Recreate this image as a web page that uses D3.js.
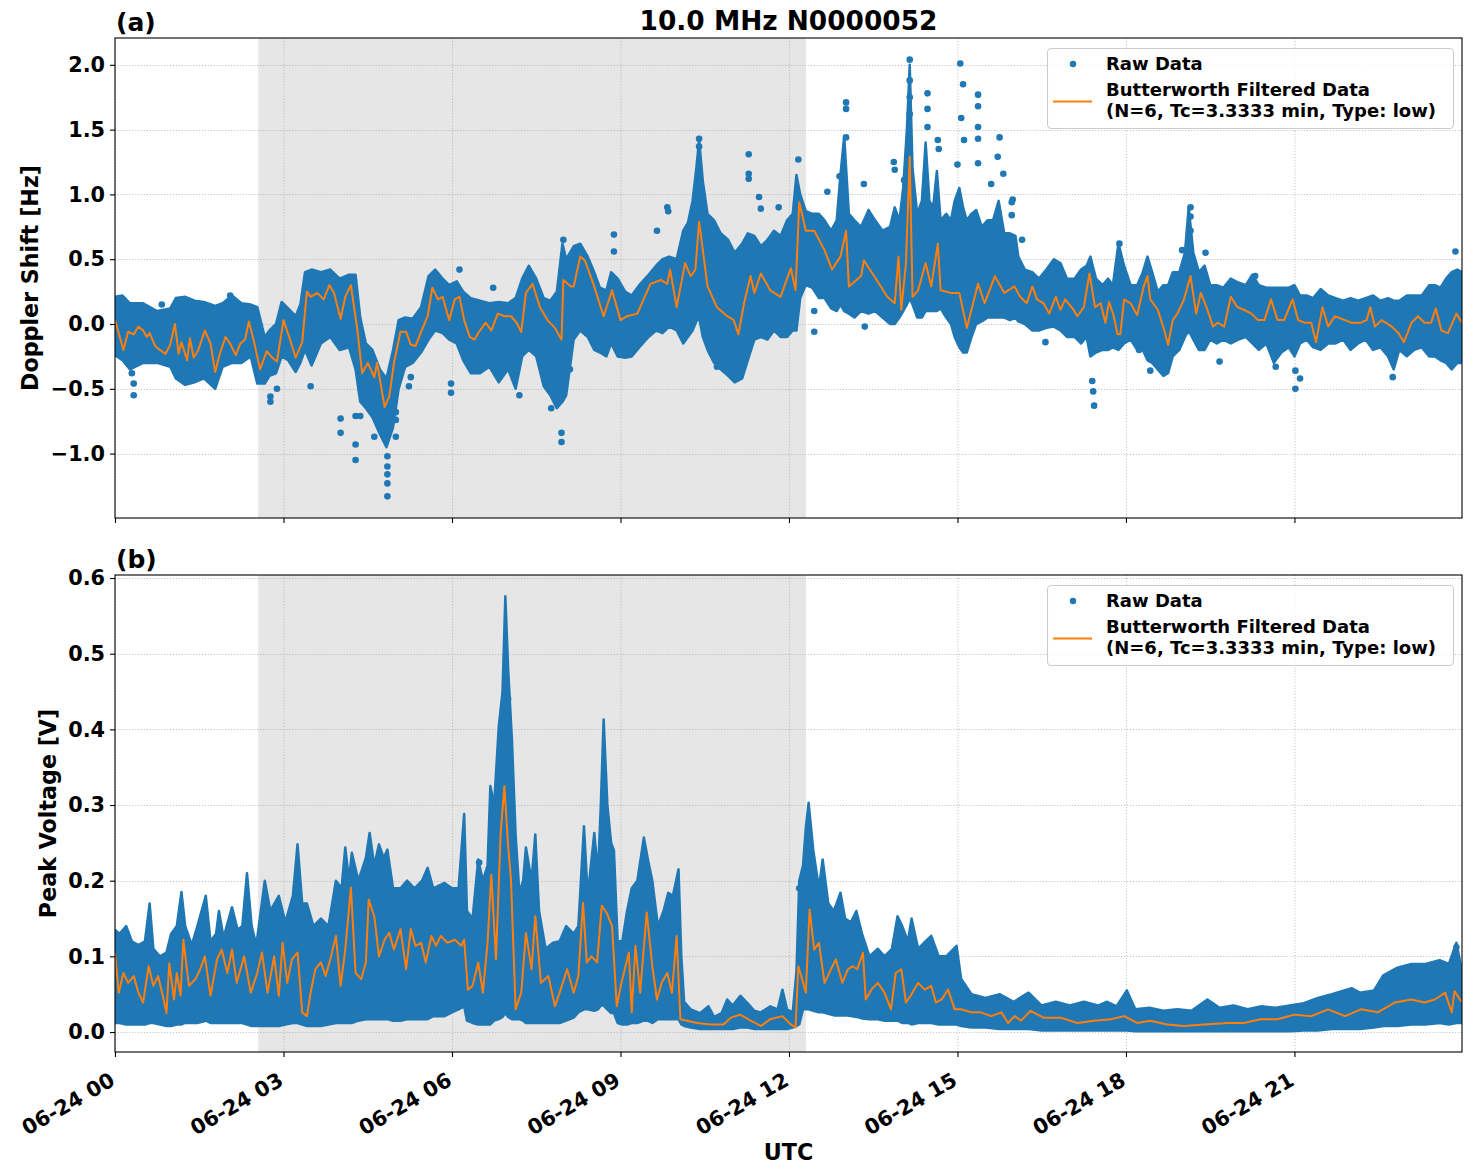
<!DOCTYPE html>
<html>
<head>
<meta charset="utf-8">
<title>10.0 MHz N0000052</title>
<script src="https://cdn.jsdelivr.net/npm/d3@7"></script>
<style>
  body { margin: 0; background: #fff; }
  svg text { font-family: "DejaVu Sans", sans-serif; font-weight: bold; fill: #000; }
</style>
</head>
<body>
<div id="chart"></div>
<script>
// time is in minutes after 06-24 00:00 UTC
var xTickMinutes = [0, 180, 360, 540, 720, 900, 1080, 1260];
var nightSpan = [153, 738];

var dopplerTicks = [-1.0, -0.5, 0.0, 0.5, 1.0, 1.5, 2.0];
var voltageTicks = [0.0, 0.1, 0.2, 0.3, 0.4, 0.5, 0.6];

// raw data envelope: [minute, low, high]
var dopplerBand = [[0,-0.24,0.21],[8,-0.28,0.22],[16,-0.35,0.16],[30,-0.30,0.16],[45,-0.30,0.10],[59,-0.33,0.12],[65,-0.42,0.20],[75,-0.47,0.21],[85,-0.45,0.18],[95,-0.42,0.17],[107,-0.50,0.14],[115,-0.33,0.16],[125,-0.30,0.22],[135,-0.30,0.16],[145,-0.25,0.15],[152,-0.46,0.13],[160,-0.46,-0.10],[165,-0.40,-0.05],[172,-0.38,0.00],[178,-0.25,0.17],[185,-0.28,0.12],[193,-0.37,0.06],[198,-0.30,0.15],[203,-0.20,0.40],[210,-0.32,0.42],[220,-0.15,0.40],[230,-0.10,0.42],[240,-0.20,0.35],[250,-0.18,0.38],[257,-0.35,0.38],[262,-0.60,0.05],[268,-0.65,-0.15],[275,-0.72,-0.20],[283,-0.85,-0.35],[290,-0.95,-0.42],[297,-0.80,-0.20],[303,-0.50,0.03],[310,-0.33,0.05],[318,-0.30,0.04],[327,-0.22,0.13],[335,-0.12,0.37],[342,-0.05,0.42],[350,-0.07,0.35],[357,-0.12,0.30],[365,-0.15,0.33],[372,-0.28,0.25],[380,-0.38,0.20],[390,-0.38,0.18],[400,-0.33,0.16],[410,-0.45,0.17],[420,-0.35,0.16],[428,-0.50,0.20],[435,-0.25,0.35],[442,-0.20,0.45],[450,-0.25,0.35],[458,-0.48,0.20],[465,-0.55,0.18],[472,-0.65,0.25],[478,-0.60,0.62],[482,-0.55,0.50],[490,-0.12,0.60],[497,-0.05,0.62],[505,-0.10,0.52],[512,-0.20,0.40],[518,-0.22,0.28],[525,-0.25,0.26],[530,-0.15,0.40],[537,-0.25,0.35],[545,-0.26,0.25],[552,-0.25,0.22],[560,-0.18,0.30],[570,-0.10,0.38],[578,-0.05,0.45],[585,-0.07,0.50],[592,-0.02,0.52],[600,-0.05,0.50],[607,-0.15,0.72],[612,-0.10,0.78],[617,-0.05,0.95],[621,0.02,1.20],[624,0.05,1.42],[628,-0.10,1.10],[633,-0.20,0.85],[640,-0.30,0.80],[647,-0.35,0.70],[655,-0.40,0.65],[662,-0.45,0.55],[670,-0.42,0.62],[676,-0.28,0.70],[683,-0.12,0.68],[690,-0.10,0.60],[697,-0.12,0.65],[704,-0.05,0.72],[711,-0.10,0.68],[718,-0.10,0.80],[724,-0.05,0.85],[728,-0.05,1.15],[732,0.20,1.00],[738,0.30,0.87],[745,0.28,0.85],[752,0.20,0.85],[758,0.20,0.80],[765,0.12,0.72],[771,0.10,0.80],[775,0.15,1.15],[779,0.10,1.45],[784,0.08,0.85],[790,0.05,0.80],[797,0.10,0.75],[805,0.08,0.88],[812,0.10,0.80],[820,0.05,0.72],[828,0.00,0.75],[833,0.00,0.90],[838,0.05,0.80],[842,0.10,1.05],[846,0.15,1.50],[849,0.20,2.00],[852,0.15,1.20],[857,0.05,0.85],[862,0.05,0.95],[866,0.10,1.40],[870,0.10,0.95],[874,0.10,0.90],[878,0.10,1.18],[882,0.12,0.80],[888,0.05,0.85],[893,0.00,0.80],[897,-0.10,0.95],[902,-0.18,1.05],[906,-0.22,0.90],[910,-0.22,0.80],[915,-0.10,0.85],[920,0.00,0.88],[926,0.02,0.75],[932,0.05,0.80],[938,0.05,0.80],[944,0.05,0.95],[950,0.05,0.70],[956,0.03,0.70],[962,0.05,0.68],[965,0.02,0.52],[972,0.00,0.42],[980,-0.05,0.40],[987,-0.05,0.35],[995,-0.03,0.42],[1003,-0.02,0.50],[1010,-0.05,0.47],[1017,-0.10,0.35],[1025,-0.10,0.35],[1032,-0.15,0.42],[1038,-0.10,0.45],[1042,-0.25,0.52],[1048,-0.22,0.35],[1055,-0.20,0.30],[1061,-0.20,0.35],[1066,-0.18,0.30],[1072,-0.20,0.62],[1078,-0.15,0.45],[1085,-0.12,0.30],[1092,-0.20,0.30],[1098,-0.20,0.40],[1103,-0.28,0.52],[1108,-0.30,0.40],[1114,-0.35,0.25],[1120,-0.40,0.30],[1125,-0.38,0.30],[1130,-0.25,0.40],[1137,-0.20,0.40],[1143,-0.10,0.55],[1147,-0.05,0.90],[1152,-0.12,0.55],[1158,-0.20,0.40],[1164,-0.20,0.45],[1170,-0.12,0.30],[1177,-0.15,0.30],[1184,-0.12,0.28],[1192,-0.15,0.35],[1200,-0.12,0.32],[1208,-0.10,0.30],[1215,-0.15,0.38],[1222,-0.20,0.30],[1230,-0.15,0.28],[1238,-0.30,0.28],[1246,-0.22,0.28],[1254,-0.18,0.28],[1260,-0.25,0.30],[1266,-0.15,0.22],[1273,-0.12,0.22],[1280,-0.18,0.20],[1288,-0.20,0.27],[1296,-0.15,0.22],[1304,-0.15,0.20],[1312,-0.12,0.18],[1320,-0.20,0.20],[1328,-0.15,0.18],[1336,-0.12,0.20],[1344,-0.20,0.22],[1352,-0.18,0.18],[1360,-0.25,0.20],[1366,-0.35,0.18],[1372,-0.20,0.18],[1380,-0.25,0.22],[1388,-0.20,0.22],[1396,-0.18,0.22],[1404,-0.25,0.30],[1410,-0.25,0.30],[1416,-0.28,0.28],[1422,-0.30,0.35],[1428,-0.35,0.40],[1434,-0.30,0.42],[1439,-0.30,0.40]];

// isolated raw points: [minute, value]
var dopplerOutliers = [[20,-0.55],[20,-0.46],[18,-0.38],[50,0.15],[123,0.22],[166,-0.60],[166,-0.56],[173,-0.50],[209,-0.48],[241,-0.73],[241,-0.84],[257,-0.71],[257,-0.93],[257,-1.05],[262,-0.71],[277,-0.87],[291,-1.33],[291,-1.16],[291,-1.23],[291,-1.10],[291,-1.02],[300,-0.87],[300,-0.74],[300,-0.68],[314,-0.48],[316,-0.41],[359,-0.53],[359,-0.46],[368,0.42],[404,0.28],[432,-0.55],[459,-0.43],[466,-0.65],[477,-0.84],[477,-0.91],[479,0.65],[486,-0.35],[533,0.69],[533,0.56],[579,0.72],[590,0.90],[591,0.87],[624,1.43],[624,1.37],[643,-0.33],[677,1.31],[677,1.16],[677,1.12],[688,0.98],[690,0.89],[709,0.90],[730,1.27],[747,0.10],[747,-0.06],[761,1.02],[781,1.71],[781,1.66],[781,1.44],[774,1.14],[800,1.08],[801,-0.02],[832,1.25],[833,1.19],[843,1.11],[849,2.04],[849,1.88],[849,1.75],[849,1.62],[868,1.78],[868,1.66],[868,1.52],[879,1.42],[880,1.35],[903,2.01],[906,1.85],[904,1.59],[907,1.42],[900,1.23],[922,1.77],[922,1.68],[922,1.52],[922,1.43],[922,1.24],[945,1.44],[943,1.29],[936,1.08],[949,1.16],[959,0.96],[958,0.94],[958,0.84],[969,0.65],[994,-0.14],[1044,-0.44],[1045,-0.52],[1046,-0.63],[1073,0.62],[1094,-0.20],[1106,-0.36],[1140,0.57],[1149,0.90],[1149,0.83],[1149,0.72],[1165,0.55],[1180,-0.29],[1218,0.37],[1240,-0.33],[1261,-0.50],[1261,-0.36],[1266,-0.42],[1365,-0.41],[1432,0.56]];

// butterworth filtered: [minute, value]
var dopplerFilt = [[0,0.03],[2,-0.02],[9,-0.20],[14,-0.06],[20,-0.08],[25,-0.02],[30,-0.05],[34,-0.10],[37,-0.07],[43,-0.17],[48,-0.20],[54,-0.23],[59,-0.16],[64,0.00],[68,-0.23],[71,-0.14],[77,-0.28],[80,-0.11],[84,-0.26],[89,-0.20],[96,-0.05],[102,-0.15],[107,-0.37],[112,-0.23],[118,-0.10],[123,-0.15],[129,-0.24],[134,-0.15],[139,-0.12],[143,0.02],[148,-0.12],[155,-0.35],[162,-0.21],[168,-0.26],[173,-0.29],[180,0.03],[187,-0.12],[193,-0.26],[200,-0.14],[205,0.25],[209,0.21],[216,0.24],[223,0.19],[229,0.30],[234,0.24],[241,0.04],[246,0.21],[252,0.30],[259,-0.05],[264,-0.38],[270,-0.30],[277,-0.41],[280,-0.30],[288,-0.64],[293,-0.56],[298,-0.30],[305,-0.06],[311,-0.06],[316,-0.16],[321,-0.17],[327,-0.06],[334,0.06],[339,0.28],[345,0.19],[350,0.21],[357,0.03],[363,0.19],[368,0.21],[373,0.03],[379,-0.10],[384,-0.12],[389,-0.06],[396,0.01],[402,-0.05],[409,0.08],[416,0.06],[423,0.06],[429,0.01],[434,-0.06],[439,0.24],[446,0.31],[454,0.13],[462,0.03],[470,-0.03],[477,-0.12],[479,0.34],[487,0.29],[490,0.29],[497,0.52],[502,0.49],[511,0.31],[522,0.06],[531,0.26],[540,0.03],[547,0.06],[558,0.08],[572,0.31],[583,0.34],[590,0.31],[593,0.42],[600,0.13],[609,0.47],[615,0.37],[620,0.42],[624,0.79],[633,0.29],[643,0.13],[654,0.06],[661,0.03],[666,-0.08],[672,0.16],[679,0.37],[683,0.24],[690,0.39],[700,0.26],[711,0.21],[722,0.43],[727,0.26],[731,0.94],[738,0.72],[747,0.72],[758,0.57],[766,0.42],[775,0.52],[781,0.72],[784,0.29],[797,0.37],[800,0.49],[811,0.37],[825,0.21],[833,0.16],[837,0.52],[840,0.11],[845,0.47],[849,1.29],[852,0.21],[858,0.26],[866,0.47],[872,0.29],[879,0.62],[882,0.26],[893,0.24],[902,0.24],[910,-0.03],[922,0.31],[929,0.16],[940,0.37],[950,0.24],[961,0.29],[967,0.21],[974,0.16],[980,0.29],[985,0.19],[992,0.16],[998,0.08],[1005,0.21],[1010,0.11],[1015,0.19],[1024,0.11],[1028,0.06],[1035,0.13],[1041,0.39],[1047,0.13],[1053,0.16],[1058,0.01],[1062,0.17],[1067,0.06],[1071,-0.08],[1074,-0.08],[1078,0.19],[1085,0.16],[1092,0.07],[1099,0.29],[1103,0.37],[1106,0.19],[1114,0.11],[1121,-0.05],[1125,-0.16],[1130,0.03],[1135,0.08],[1142,0.19],[1149,0.37],[1155,0.08],[1160,0.24],[1167,0.11],[1173,-0.02],[1178,0.01],[1185,-0.02],[1192,0.21],[1199,0.13],[1206,0.11],[1214,0.08],[1221,0.03],[1228,0.03],[1235,0.19],[1242,0.03],[1249,0.03],[1258,0.19],[1264,0.03],[1271,0.01],[1278,0.01],[1283,-0.14],[1290,0.13],[1296,-0.02],[1303,0.06],[1314,0.03],[1321,0.01],[1331,0.01],[1337,0.03],[1341,0.13],[1346,-0.02],[1353,0.03],[1364,-0.02],[1371,-0.07],[1377,-0.14],[1385,0.01],[1392,0.06],[1399,0.01],[1406,0.01],[1411,0.12],[1417,-0.05],[1424,-0.07],[1433,0.08],[1439,0.01]];

var voltageBand = [[0,0.012,0.135],[5,0.012,0.13],[12,0.010,0.14],[18,0.010,0.12],[25,0.010,0.115],[32,0.010,0.12],[37,0.012,0.17],[41,0.012,0.11],[48,0.010,0.10],[55,0.008,0.105],[60,0.008,0.13],[66,0.010,0.14],[71,0.010,0.185],[75,0.012,0.14],[82,0.012,0.115],[88,0.012,0.14],[97,0.015,0.18],[102,0.012,0.12],[108,0.012,0.13],[111,0.012,0.16],[116,0.012,0.125],[125,0.012,0.165],[131,0.012,0.135],[136,0.012,0.14],[141,0.010,0.21],[146,0.008,0.14],[151,0.008,0.115],[160,0.008,0.20],[166,0.008,0.16],[175,0.008,0.18],[182,0.010,0.145],[190,0.012,0.18],[195,0.012,0.248],[200,0.010,0.17],[205,0.008,0.17],[212,0.008,0.14],[220,0.008,0.15],[228,0.010,0.14],[236,0.012,0.20],[242,0.012,0.19],[246,0.012,0.244],[250,0.012,0.20],[253,0.012,0.237],[260,0.015,0.20],[268,0.017,0.23],[272,0.017,0.263],[277,0.017,0.22],[282,0.017,0.248],[287,0.017,0.23],[291,0.017,0.241],[297,0.015,0.19],[305,0.015,0.19],[312,0.017,0.20],[320,0.017,0.19],[328,0.017,0.20],[334,0.017,0.217],[340,0.021,0.19],[352,0.021,0.197],[360,0.026,0.19],[367,0.030,0.19],[373,0.034,0.288],[376,0.015,0.16],[382,0.012,0.15],[388,0.010,0.228],[393,0.010,0.20],[398,0.010,0.22],[401,0.010,0.325],[405,0.015,0.30],[410,0.017,0.404],[414,0.020,0.45],[417,0.025,0.576],[420,0.020,0.48],[424,0.017,0.387],[428,0.017,0.26],[432,0.017,0.184],[436,0.015,0.20],[439,0.012,0.244],[445,0.012,0.20],[449,0.012,0.261],[453,0.012,0.16],[460,0.012,0.11],[468,0.012,0.118],[475,0.012,0.12],[482,0.015,0.14],[490,0.019,0.13],[495,0.026,0.14],[501,0.030,0.272],[505,0.030,0.18],[512,0.028,0.263],[516,0.030,0.21],[519,0.035,0.30],[522,0.035,0.413],[526,0.030,0.30],[530,0.025,0.25],[533,0.025,0.24],[537,0.012,0.12],[542,0.010,0.12],[547,0.010,0.16],[552,0.012,0.19],[558,0.012,0.20],[565,0.015,0.257],[569,0.015,0.23],[574,0.012,0.20],[580,0.017,0.14],[586,0.017,0.16],[591,0.017,0.184],[596,0.017,0.18],[602,0.017,0.215],[605,0.010,0.10],[608,0.008,0.04],[615,0.006,0.03],[625,0.004,0.025],[634,0.004,0.034],[640,0.004,0.02],[648,0.004,0.025],[654,0.004,0.043],[660,0.004,0.035],[668,0.006,0.048],[676,0.006,0.038],[683,0.004,0.028],[690,0.004,0.026],[700,0.004,0.034],[708,0.004,0.030],[713,0.004,0.056],[718,0.004,0.030],[724,0.006,0.026],[728,0.008,0.08],[731,0.010,0.200],[735,0.030,0.22],[738,0.030,0.27],[741,0.030,0.303],[746,0.028,0.24],[752,0.026,0.19],[756,0.026,0.228],[762,0.024,0.17],[768,0.022,0.16],[775,0.022,0.184],[780,0.022,0.15],[786,0.021,0.145],[792,0.020,0.16],[798,0.018,0.13],[806,0.017,0.10],[815,0.017,0.11],[822,0.015,0.10],[830,0.015,0.11],[836,0.015,0.153],[841,0.012,0.14],[847,0.012,0.12],[851,0.010,0.15],[858,0.012,0.11],[866,0.012,0.12],[872,0.012,0.127],[880,0.010,0.10],[888,0.010,0.10],[899,0.010,0.114],[904,0.008,0.07],[915,0.006,0.05],[930,0.006,0.045],[945,0.004,0.05],[960,0.004,0.04],[976,0.004,0.052],[990,0.002,0.035],[1005,0.002,0.04],[1020,0.002,0.035],[1035,0.002,0.04],[1050,0.002,0.035],[1060,0.002,0.04],[1070,0.002,0.034],[1081,0.002,0.055],[1090,0.001,0.03],[1105,0.001,0.032],[1120,0.001,0.028],[1135,0.001,0.03],[1150,0.001,0.028],[1167,0.001,0.043],[1180,0.001,0.032],[1195,0.001,0.035],[1210,0.001,0.03],[1225,0.001,0.034],[1240,0.001,0.032],[1255,0.001,0.035],[1270,0.002,0.038],[1285,0.002,0.045],[1300,0.004,0.05],[1321,0.004,0.058],[1330,0.004,0.052],[1345,0.006,0.055],[1355,0.008,0.075],[1370,0.008,0.085],[1385,0.010,0.09],[1400,0.010,0.09],[1415,0.012,0.095],[1425,0.010,0.09],[1433,0.012,0.118],[1439,0.012,0.08]];

var voltageOutliers = [[389,0.224],[412,0.33],[420,0.44],[731,0.19],[1105,0.028],[1433,0.112]];

var voltageFilt = [[0,0.105],[4,0.052],[9,0.078],[14,0.065],[20,0.074],[25,0.052],[30,0.039],[36,0.087],[41,0.061],[46,0.074],[52,0.043],[55,0.025],[58,0.091],[63,0.043],[66,0.078],[70,0.048],[73,0.122],[79,0.061],[86,0.070],[91,0.083],[96,0.100],[102,0.048],[109,0.096],[114,0.109],[120,0.078],[125,0.109],[130,0.065],[138,0.100],[145,0.052],[152,0.078],[157,0.105],[163,0.052],[170,0.100],[175,0.048],[179,0.118],[184,0.065],[189,0.096],[195,0.105],[200,0.026],[205,0.021],[209,0.052],[214,0.083],[220,0.092],[225,0.074],[230,0.096],[236,0.127],[241,0.061],[246,0.109],[252,0.191],[257,0.078],[263,0.070],[268,0.092],[271,0.175],[277,0.153],[282,0.100],[288,0.122],[293,0.131],[298,0.109],[305,0.136],[311,0.083],[316,0.136],[321,0.114],[327,0.118],[332,0.092],[338,0.127],[343,0.114],[348,0.127],[355,0.118],[363,0.122],[370,0.114],[373,0.122],[377,0.056],[382,0.061],[388,0.092],[393,0.052],[398,0.118],[402,0.208],[407,0.096],[412,0.263],[416,0.325],[420,0.246],[423,0.202],[428,0.030],[434,0.052],[439,0.131],[445,0.083],[449,0.153],[455,0.065],[463,0.074],[470,0.034],[475,0.052],[483,0.083],[490,0.052],[495,0.074],[500,0.171],[504,0.092],[509,0.100],[515,0.092],[520,0.167],[525,0.158],[531,0.140],[536,0.034],[541,0.065],[549,0.105],[552,0.026],[556,0.114],[561,0.052],[568,0.158],[574,0.087],[579,0.043],[584,0.065],[590,0.078],[595,0.052],[600,0.127],[604,0.017],[611,0.015],[622,0.012],[636,0.010],[650,0.010],[658,0.019],[668,0.023],[679,0.015],[690,0.008],[700,0.017],[713,0.021],[722,0.010],[727,0.006],[730,0.087],[734,0.070],[738,0.052],[742,0.162],[747,0.109],[752,0.118],[758,0.065],[763,0.078],[770,0.096],[777,0.065],[783,0.083],[788,0.087],[793,0.083],[799,0.105],[802,0.043],[808,0.056],[815,0.065],[822,0.052],[829,0.030],[834,0.078],[840,0.083],[845,0.039],[850,0.048],[858,0.065],[865,0.056],[872,0.061],[877,0.039],[883,0.043],[890,0.056],[897,0.030],[904,0.030],[915,0.026],[925,0.026],[936,0.021],[947,0.026],[954,0.012],[961,0.021],[968,0.015],[978,0.028],[992,0.019],[1010,0.019],[1028,0.012],[1046,0.015],[1064,0.017],[1078,0.021],[1092,0.012],[1106,0.015],[1124,0.010],[1142,0.008],[1164,0.010],[1189,0.012],[1206,0.012],[1224,0.017],[1242,0.017],[1260,0.023],[1278,0.021],[1296,0.030],[1314,0.021],[1331,0.030],[1349,0.026],[1367,0.039],[1385,0.043],[1399,0.039],[1410,0.043],[1421,0.052],[1428,0.026],[1431,0.054],[1439,0.039]];

var blue = '#1f77b4';
var orange = '#ff7f0e';

var width = 1472, height = 1172;
var axLeft = 115, axRight = 1462;

var x = d3.scaleLinear().domain([0, 1439]).range([axLeft, axRight]);

var svg = d3.select('#chart').append('svg')
    .attr('width', width)
    .attr('height', height);

function pad2(n) { return (n < 10 ? '0' : '') + n; }

function drawPanel(p) {
  var y = d3.scaleLinear().domain(p.yDomain).range([p.bottom, p.top]);
  var g = svg.append('g');

  svg.append('clipPath').attr('id', 'clip-' + p.tag)
    .append('rect')
      .attr('x', axLeft).attr('y', p.top)
      .attr('width', axRight - axLeft).attr('height', p.bottom - p.top);

  // night shading
  g.append('rect')
      .attr('x', x(nightSpan[0]))
      .attr('width', x(nightSpan[1]) - x(nightSpan[0]))
      .attr('y', p.top)
      .attr('height', p.bottom - p.top)
      .attr('fill', '#e6e6e6');

  // dotted grid
  var grid = g.append('g')
      .attr('stroke', '#b0b0b0')
      .attr('stroke-width', 0.8)
      .attr('stroke-dasharray', '1.1,1.8');
  grid.selectAll('.gx').data(xTickMinutes).enter().append('line')
      .attr('x1', d => x(d) + 0.5).attr('x2', d => x(d) + 0.5)
      .attr('y1', p.top).attr('y2', p.bottom);
  grid.selectAll('.gy').data(p.yTicks).enter().append('line')
      .attr('x1', axLeft).attr('x2', axRight)
      .attr('y1', d => Math.round(y(d)) + 0.5).attr('y2', d => Math.round(y(d)) + 0.5);

  var plot = g.append('g').attr('clip-path', 'url(#clip-' + p.tag + ')');

  // raw data, as its envelope plus isolated points
  var band = d3.area()
      .x(d => x(d[0]))
      .y0(d => y(d[1]))
      .y1(d => y(d[2]));
  plot.append('path')
      .datum(p.band)
      .attr('d', band)
      .attr('fill', blue)
      .attr('stroke', blue)
      .attr('stroke-width', 2.5)
      .attr('stroke-linejoin', 'round');

  plot.selectAll('circle').data(p.outliers).enter().append('circle')
      .attr('cx', d => x(d[0]))
      .attr('cy', d => y(d[1]))
      .attr('r', 3.3)
      .attr('fill', blue);

  var line = d3.line()
      .x(d => x(d[0]))
      .y(d => y(d[1]));
  plot.append('path')
      .datum(p.filt)
      .attr('d', line)
      .attr('fill', 'none')
      .attr('stroke', orange)
      .attr('stroke-width', 2)
      .attr('stroke-linejoin', 'round');

  // axes
  var yAxis = d3.axisLeft(y)
      .tickValues(p.yTicks)
      .tickSize(5)
      .tickPadding(5)
      .tickFormat(d3.format('.1f'));
  var gy = svg.append('g')
      .attr('transform', 'translate(' + axLeft + ',0)')
      .call(yAxis);
  gy.select('.domain').remove();
  gy.selectAll('text').style('font-size', '20.8px').attr('font-family', null);
  gy.selectAll('line').attr('stroke-width', 1.1);

  var xAxis = d3.axisBottom(x)
      .tickValues(xTickMinutes)
      .tickSize(5)
      .tickFormat(p.showX ? (m => '06-24 ' + pad2(m / 60)) : '');
  var gx = svg.append('g')
      .attr('transform', 'translate(0,' + p.bottom + ')')
      .call(xAxis);
  gx.select('.domain').remove();
  gx.selectAll('line').attr('stroke-width', 1.1);
  if (p.showX) {
    gx.selectAll('text')
        .attr('y', 0)
        .attr('dy', '0.74em')
        .attr('text-anchor', 'end')
        .attr('font-family', null)
        .style('font-size', '20.8px')
        .attr('transform', 'translate(-7,19) rotate(-30)');
  } else {
    gx.selectAll('text').remove();
  }

  // frame
  svg.append('rect')
      .attr('x', axLeft).attr('y', p.top)
      .attr('width', axRight - axLeft).attr('height', p.bottom - p.top)
      .attr('fill', 'none')
      .attr('stroke', '#000')
      .attr('stroke-width', 1.1);

  svg.append('text')
      .attr('transform', 'translate(' + p.labelX + ',' + ((p.top + p.bottom) / 2) + ') rotate(-90)')
      .attr('text-anchor', 'middle')
      .style('font-size', '22.2px')
      .text(p.yLabel);

  svg.append('text')
      .attr('x', axLeft + 1)
      .attr('y', p.top - 7)
      .style('font-size', '25px')
      .text('(' + p.tag + ')');

  drawLegend(p.top + 10);
}

function drawLegend(top) {
  var lg = svg.append('g').attr('transform', 'translate(1047,' + top + ')');
  lg.append('rect')
      .attr('x', 0.5).attr('y', 0.5)
      .attr('width', 406).attr('height', 80)
      .attr('rx', 4)
      .attr('fill', 'rgba(255,255,255,0.8)')
      .attr('stroke', '#cccccc')
      .attr('stroke-width', 1.1);
  lg.append('circle')
      .attr('cx', 26).attr('cy', 16).attr('r', 3.2)
      .attr('fill', blue);
  lg.append('line')
      .attr('x1', 6).attr('x2', 45)
      .attr('y1', 53.5).attr('y2', 53.5)
      .attr('stroke', orange)
      .attr('stroke-width', 2);
  var txt = [['Raw Data', 22], ['Butterworth Filtered Data', 48], ['(N=6, Tc=3.3333 min, Type: low)', 69]];
  lg.selectAll('text').data(txt).enter().append('text')
      .attr('x', 59)
      .attr('y', d => d[1])
      .style('font-size', '18px')
      .text(d => d[0]);
}

drawPanel({
  tag: 'a', top: 38, bottom: 518,
  yDomain: [-1.497, 2.207], yTicks: dopplerTicks,
  band: dopplerBand, outliers: dopplerOutliers, filt: dopplerFilt,
  yLabel: 'Doppler Shift [Hz]', labelX: 38, showX: false
});

drawPanel({
  tag: 'b', top: 575, bottom: 1052,
  yDomain: [-0.0264, 0.6040], yTicks: voltageTicks,
  band: voltageBand, outliers: voltageOutliers, filt: voltageFilt,
  yLabel: 'Peak Voltage [V]', labelX: 56, showX: true
});

svg.append('text')
    .attr('x', (axLeft + axRight) / 2)
    .attr('y', 30)
    .attr('text-anchor', 'middle')
    .style('font-size', '26.4px')
    .text('10.0 MHz N0000052');

svg.append('text')
    .attr('x', (axLeft + axRight) / 2)
    .attr('y', 1160)
    .attr('text-anchor', 'middle')
    .style('font-size', '22.2px')
    .text('UTC');
</script>
</body>
</html>
